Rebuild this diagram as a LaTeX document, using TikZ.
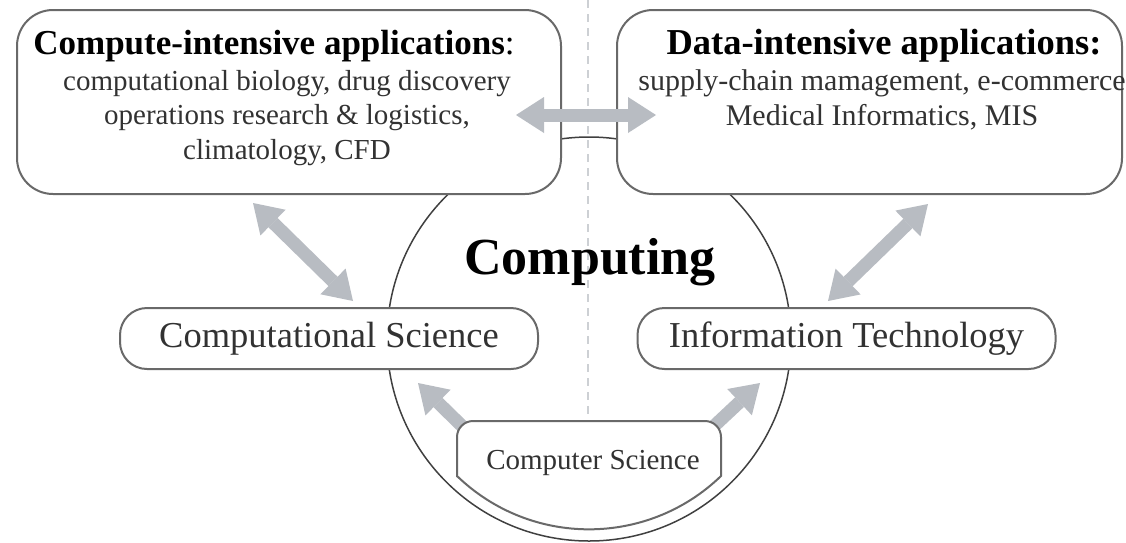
\documentclass[tikz,border=0pt]{standalone}
\usepackage{fontspec}
\setmainfont{Liberation Serif}
\usetikzlibrary{arrows.meta,calc,positioning}
\definecolor{arrowgray}{RGB}{184,188,194}
\definecolor{boxgray}{RGB}{105,105,105}
\definecolor{textgray}{RGB}{50,50,50}
\definecolor{dashgray}{RGB}{205,208,212}
\tikzset{
	appbox/.style={draw=boxgray, line width=2pt, fill=white, rounded corners=36pt},
	fieldbox/.style={draw=boxgray, line width=2pt, fill=white, rounded corners=27pt,
			minimum width=418pt, minimum height=61pt, text=textgray,
			font=\fontsize{36.5}{42}\selectfont},
	headtext/.style={font=\fontsize{35}{40}\selectfont\bfseries},
	bodytext/.style={align=center, text=textgray, font=\fontsize{29}{34.5}\selectfont},
	bigarrow/.style={draw=arrowgray, line width=13pt,
			{Triangle[length=28pt,width=36pt,line width=0pt]}-{Triangle[length=28pt,width=36pt,line width=0pt]}},
	onearrow/.style={draw=arrowgray, line width=13pt,
			-{Triangle[length=28pt,width=36pt,line width=0pt]}}
}

\begin{document}
\begin{tikzpicture}[x=1pt,y=-1pt]
        \useasboundingbox (0,0) rectangle (1126,542);
        \coordinate (div_top) at (588,0);
        \coordinate (div_bot) at (588,421);
        \draw[dashgray, line width=2pt, dash pattern=on 8pt off 6pt] (div_top) -- (div_bot);
        % the circle behind everything
        \node[draw=black!75, line width=1.5pt, circle, minimum size=404pt, inner sep=0pt] (comp_circle) at (589,339) {};
        \node[font=\fontsize{52}{60}\selectfont\bfseries] (comp_label) at (590,262) {Computing};
        % application boxes
        \node[appbox, minimum width=544pt, minimum height=184pt] (comp_app) at (289,102) {};
        \node[appbox, minimum width=505pt, minimum height=184pt] (data_app) at (869.5,102) {};
        \node[headtext] (comp_head) at (274,46) {Compute-intensive applications\mdseries:};
        \node[bodytext] (comp_body) at (287,118) {computational biology, drug discovery\\operations research \& logistics,\\climatology, CFD};
        \node[headtext, font=\fontsize{36.5}{42}\selectfont\bfseries] (data_head) at (884,46) {Data-intensive applications:};
        \node[bodytext, font=\fontsize{30}{34.5}\selectfont] (data_body) at (882,100) {supply-chain mamagement, e-commerce\\Medical Informatics, MIS};
        % fields
        \node[fieldbox] (comp_sci) at (329,338.5) {Computational Science};
        \node[fieldbox] (info_tech) at (846.5,338.5) {Information Technology};
        % computer science
        \coordinate (cs_nw) at (463,427);
        \coordinate (cs_ne) at (713,427);
        \draw[onearrow] (cs_nw) -- ($(comp_sci.south)+(89,13)$);
        \draw[onearrow] (cs_ne) -- ($(info_tech.south)+(-86.5,13)$);
        \draw[draw=boxgray, line width=2pt, fill=white] (457,476) [rounded corners=16pt] -- (457,421) -- (721,421) [sharp corners] -- (721,476) arc[start angle=-46, end angle=-134, radius=190pt] -- cycle;
        \node[text=textgray, font=\fontsize{29}{34}\selectfont] (cs_label) at (593,463) {Computer Science};
        % connectors
        \draw[bigarrow] ($(comp_app.east)+(-46,13)$) -- ($(data_app.west)+(40,13)$);
        \draw[bigarrow] ($(comp_app.south)+(-36,8)$) -- ($(comp_sci.north)+(24,-6)$);
        \draw[bigarrow] ($(data_app.south)+(58.5,9)$) -- ($(info_tech.north)+(-18.5,-6)$);
\end{tikzpicture}
\end{document}
